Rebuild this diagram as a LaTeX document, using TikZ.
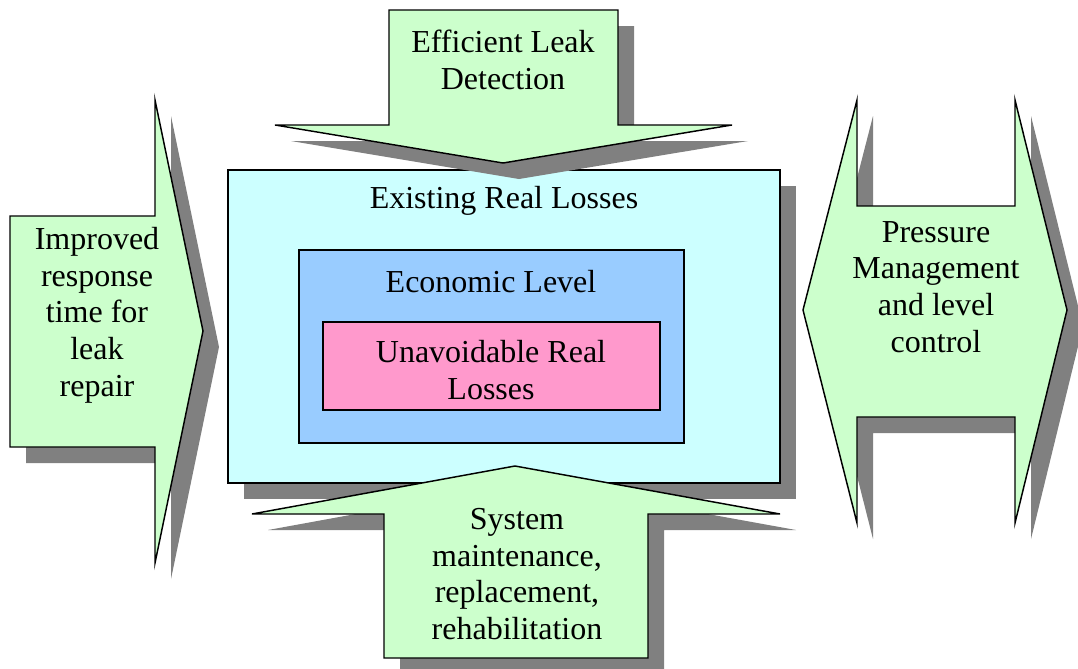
\documentclass[tikz,border=0pt]{standalone}
\usepackage{fontspec}
\setmainfont{Liberation Serif}
\newfontfamily\boxfont{Liberation Serif}

\definecolor{leafgreen}{RGB}{204,255,204}
\definecolor{palecyan}{RGB}{204,255,255}
\definecolor{skyblue}{RGB}{153,204,255}
\definecolor{rosepink}{RGB}{255,153,204}
\definecolor{shadowgrey}{RGB}{128,128,128}

\tikzset{
  shadowfill/.style={fill=shadowgrey, draw=none, shift={(16,16)}},
  shapefill/.style={draw=black, line width=1.1pt, line join=miter},
  txt/.style={font=\boxfont\fontsize{24}{27.5}\selectfont, align=center, inner sep=0pt},
  % outlines of the four arrows
  toparrow/.style={insert path={(389,10) -- (618,10) -- (618,125) -- (732,125) -- (503,163) -- (275,125) -- (389,125) -- cycle}},
  leftarrow/.style={insert path={(10,216) -- (155,216) -- (155,100) -- (203,331) -- (155,563) -- (155,447) -- (10,447) -- cycle}},
  twowayarrow/.style={insert path={(803,310) -- (857,100) -- (857,206) -- (1015,206) -- (1015,100) -- (1067,310) -- (1015,523) -- (1015,417) -- (857,417) -- (857,523) -- cycle}},
  bottomarrow/.style={insert path={(384,658) -- (384,514) -- (252,514) -- (515,466) -- (780,514) -- (648,514) -- (648,658) -- cycle}},
}

\begin{document}
\begin{tikzpicture}[x=0.75pt,y=0.75pt,yscale=-1,xscale=1]
\useasboundingbox (0,0) rectangle (1078,668);

%Shape: Rectangle [existing losses]
\fill [shadowgrey] (244,186) rectangle (796,499);
\draw [shapefill, fill=palecyan] (228,170) rectangle (780,483);
%Shape: Rectangle [economic level]
\draw [shapefill, fill=skyblue] (299,250) rectangle (684,443);
%Shape: Rectangle [unavoidable losses]
\draw [shapefill, fill=rosepink] (323,322) rectangle (660,410);

%Shape: Arrows (shadow first)
\path [shadowfill, toparrow];
\path [shapefill, fill=leafgreen, toparrow];
\path [shadowfill, leftarrow];
\path [shapefill, fill=leafgreen, leftarrow];
\path [shadowfill, twowayarrow];
\path [shapefill, fill=leafgreen, twowayarrow];
\path [shadowfill, bottomarrow];
\path [shapefill, fill=leafgreen, bottomarrow];

% Text Node
\node (existing) at (504,201) [txt] {Existing Real Losses};
% Text Node
\node (economic) at (491,282) [txt] {Economic Level};
% Text Node
\node (unavoidable) at (491,370) [txt] {Unavoidable Real\\Losses};
% Text Node
\node (detection) at (503,60) [txt] {Efficient Leak\\Detection};
% Text Node
\node (response) at (97,315) [txt] {Improved\\response\\time for\\leak\\repair};
% Text Node
\node (pressure) at (936,287) [txt] {Pressure\\Management\\and level\\control};
% Text Node
\node (maintenance) at (517,574) [txt] {System\\maintenance,\\replacement,\\rehabilitation};

\end{tikzpicture}
\end{document}
